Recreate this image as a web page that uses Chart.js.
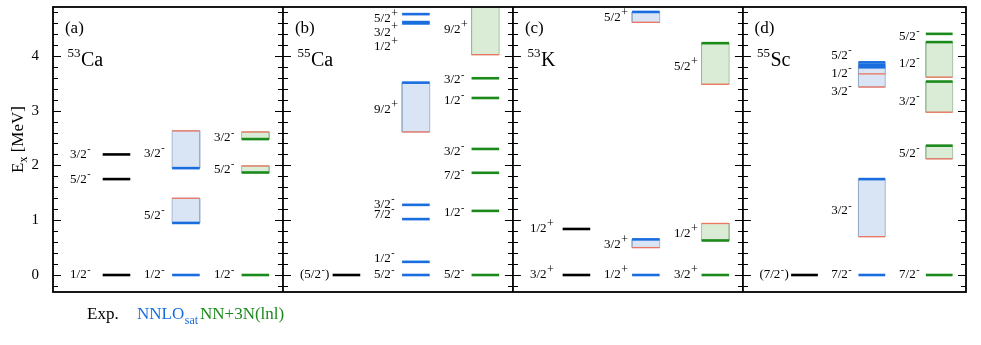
<!DOCTYPE html>
<html><head><meta charset="utf-8">
<script src="https://cdn.jsdelivr.net/npm/chart.js@4.4.0/dist/chart.umd.min.js"></script>
<style>html,body{margin:0;padding:0;background:#fff;}#wrap{position:relative;width:981px;height:345px;}</style>
</head><body><div id="wrap"><canvas id="c" width="981" height="345"></canvas></div>
<script>
// ---------------- data ----------------
const panelNames = ['(a)', '(b)', '(c)', '(d)'];
const nucleusMass = ['53', '55', '53', '55'];
const nucleusSymbol = ['Ca', 'Ca', 'K', 'Sc'];
const yTicks = [0, 1, 2, 3, 4];
const yTitle = ['E', 'x', ' [MeV]'];
const legendExp = 'Exp.';
const legendNnlo = ['NNLO', 'sat'];
const legendLnl = 'NN+3N(lnl)';
// [panel, label, energy (MeV), second energy (red, or null), label energy]
const expLevels = [
  [0, '1/2^-', 0, null, 0], [0, '5/2^-', 1.75, null, 1.75], [0, '3/2^-', 2.20, null, 2.20],
  [1, '(5/2^-)', 0, null, 0],
  [2, '3/2^+', 0, null, 0], [2, '1/2^+', 0.84, null, 0.84],
  [3, '(7/2^-)', 0, null, 0]
];
const nnloLevels = [
  [0, '1/2^-', 0, null, 0], [0, '5/2^-', 0.95, 1.40, 1.09], [0, '3/2^-', 1.95, 2.63, 2.22],
  [1, '5/2^-', 0, null, 0], [1, '1/2^-', 0.24, null, 0.30], [1, '7/2^-', 1.02, null, 1.10],
  [1, '3/2^-', 1.28, null, 1.28], [1, '9/2^+', 3.51, 2.61, 3.01],
  [1, '1/2^+', 4.59, null, 4.16], [1, '3/2^+', 4.615, null, 4.43], [1, '5/2^+', 4.76, null, 4.67],
  [2, '1/2^+', 0, null, 0], [2, '3/2^+', 0.65, 0.50, 0.55], [2, '5/2^+', 4.80, 4.61, 4.69],
  [3, '7/2^-', 0, null, 0], [3, '3/2^-', 1.75, 0.70, 1.17], [3, '3/2^-', 3.79, 3.43, 3.35],
  [3, '1/2^-', 3.835, 3.67, 3.68], [3, '5/2^-', 3.88, 3.79, 4.00]
];
const lnlLevels = [
  [0, '1/2^-', 0, null, 0], [0, '5/2^-', 1.87, 1.99, 1.93], [0, '3/2^-', 2.48, 2.61, 2.50],
  [1, '5/2^-', 0, null, 0], [1, '1/2^-', 1.17, null, 1.13], [1, '7/2^-', 1.865, null, 1.82],
  [1, '3/2^-', 2.30, null, 2.25], [1, '1/2^-', 3.23, null, 3.19], [1, '3/2^-', 3.59, null, 3.56],
  [1, '9/2^+', 5.30, 4.02, 4.47],
  [2, '3/2^+', 0, null, 0], [2, '1/2^+', 0.63, 0.94, 0.76], [2, '5/2^+', 4.23, 3.48, 3.80],
  [3, '7/2^-', 0, null, 0], [3, '5/2^-', 2.36, 2.12, 2.22], [3, '3/2^-', 3.53, 2.97, 3.17],
  [3, '1/2^-', 4.25, 3.61, 3.86], [3, '5/2^-', 4.40, null, 4.35]
];

// ---------------- layout / style ----------------
const SERIF = '"Liberation Serif", "Times New Roman", serif';
const panelStart = [0, 1, 2, 3];
const panelWidth = [1, 1, 1, 0.97];
const colCenter = [0.276, 0.578, 0.880];
const colHalf = 0.06;
const labelFrac = [0.074, 0.396, 0.700];
const lineColor = ['#000000', '#1a6ddf', '#1b8a1b'];
const fillColor = [null, '#d9e4f4', '#dbecd6'];
const sideColor = [null, 'rgba(150,170,200,0.8)', 'rgba(150,185,150,0.8)'];
const redColor = '#ec7560';
const series = [expLevels, nnloLevels, lnlLevels];

const lineSets = [], boxSets = [], redSets = [];
series.forEach((levels, c) => {
  levels.forEach(lv => {
    const [p, , e, e2] = lv;
    const x0 = panelStart[p] + (colCenter[c] - colHalf) * panelWidth[p];
    const x1 = panelStart[p] + (colCenter[c] + colHalf) * panelWidth[p];
    if (e2 !== null) {
      boxSets.push({
        data: [{x: x0, y: e}, {x: x0, y: e2}, {x: x1, y: e2}, {x: x1, y: e}, {x: x0, y: e}],
        borderColor: sideColor[c], borderWidth: 1, backgroundColor: fillColor[c],
        fill: 'shape', pointRadius: 0, tension: 0, order: 3
      });
      redSets.push({
        data: [{x: x0, y: e2}, {x: x1, y: e2}], borderColor: redColor, borderWidth: 1.3,
        pointRadius: 0, fill: false, order: 2
      });
    }
    lineSets.push({
      data: [{x: x0, y: e}, {x: x1, y: e}], borderColor: lineColor[c], borderWidth: 2.6,
      pointRadius: 0, fill: false, order: 1
    });
  });
});

function drawLevelLabel(ctx, text, x, y) {
  const m = text.match(/^(.*)\^([+-])(.*)$/);
  ctx.textAlign = 'left';
  ctx.textBaseline = 'middle';
  ctx.fillStyle = '#000';
  ctx.font = '13px ' + SERIF;
  ctx.fillText(m[1], x, y);
  let w = ctx.measureText(m[1]).width + 0.5;
  ctx.font = (m[2] === '+' ? '12px ' : '10px ') + SERIF;
  ctx.fillText(m[2], x + w, y - 5);
  w += ctx.measureText(m[2]).width + 0.3;
  if (m[3]) { ctx.font = '13px ' + SERIF; ctx.fillText(m[3], x + w, y); }
}

const decor = {
  id: 'decor',
  afterDatasetsDraw(chart) {
    const ctx = chart.ctx, xs = chart.scales.x, ys = chart.scales.y, a = chart.chartArea;
    ctx.save();
    // frame & separators
    ctx.strokeStyle = '#000';
    ctx.lineWidth = 1.8;
    ctx.strokeRect(a.left, a.top, a.right - a.left, a.bottom - a.top);
    const seps = [1, 2, 3].map(v => xs.getPixelForValue(v));
    ctx.lineWidth = 1.8;
    seps.forEach(px => { ctx.beginPath(); ctx.moveTo(px, a.top); ctx.lineTo(px, a.bottom); ctx.stroke(); });
    // ticks
    ctx.lineWidth = 1.2;
    for (let k = -1; k <= 24; k++) {
      const py = Math.round(ys.getPixelForValue(k / 5)) + 0.5;
      if (py < a.top + 1 || py > a.bottom - 1) continue;
      const L = (k % 5 === 0) ? 8 : 5;
      ctx.beginPath();
      ctx.moveTo(a.left, py); ctx.lineTo(a.left + L, py);
      ctx.moveTo(a.right, py); ctx.lineTo(a.right - L, py);
      seps.forEach(px => { ctx.moveTo(px - L, py); ctx.lineTo(px + L, py); });
      ctx.stroke();
    }
    // level labels
    series.forEach((levels, c) => {
      levels.forEach(lv => {
        const [p, lab, , , le] = lv;
        const lx = xs.getPixelForValue(panelStart[p] + labelFrac[c] * panelWidth[p]);
        drawLevelLabel(ctx, lab, lx, ys.getPixelForValue(le));
      });
    });
    // panel tags and nuclei
    ctx.fillStyle = '#000';
    for (let p = 0; p < 4; p++) {
      const pl = xs.getPixelForValue(panelStart[p]);
      const pw = xs.getPixelForValue(panelStart[p] + panelWidth[p]) - pl;
      ctx.textAlign = 'left'; ctx.textBaseline = 'alphabetic';
      ctx.font = '17px ' + SERIF;
      ctx.fillText(panelNames[p], pl + 0.052 * pw, a.top + 26);
      const nx = pl + 0.063 * pw;
      ctx.font = '13px ' + SERIF;
      ctx.fillText(nucleusMass[p], nx, a.top + 50);
      const mw = ctx.measureText(nucleusMass[p]).width;
      ctx.font = '20px ' + SERIF;
      ctx.fillText(nucleusSymbol[p], nx + mw + 0.5, a.top + 59);
    }
    // y title
    ctx.save();
    ctx.translate(19, (a.top + a.bottom) / 2 - 10);
    ctx.rotate(-Math.PI / 2);
    ctx.textBaseline = 'middle'; ctx.textAlign = 'left';
    ctx.font = '17px ' + SERIF; const w0 = ctx.measureText(yTitle[0]).width;
    ctx.font = '12px ' + SERIF; const w1 = ctx.measureText(yTitle[1]).width;
    ctx.font = '17px ' + SERIF; const w2 = ctx.measureText(yTitle[2]).width;
    let tx = -(w0 + w1 + w2) / 2;
    ctx.font = '17px ' + SERIF; ctx.fillText(yTitle[0], tx, 0); tx += w0;
    ctx.font = '12px ' + SERIF; ctx.fillText(yTitle[1], tx, 5); tx += w1;
    ctx.font = '17px ' + SERIF; ctx.fillText(yTitle[2], tx, 0);
    ctx.restore();
    // legend
    ctx.textAlign = 'left'; ctx.textBaseline = 'alphabetic';
    ctx.font = '17px ' + SERIF;
    ctx.fillStyle = lineColor[0]; ctx.fillText(legendExp, 87, 319);
    ctx.fillStyle = lineColor[1]; ctx.fillText(legendNnlo[0], 137, 319);
    const nw = ctx.measureText(legendNnlo[0]).width;
    ctx.font = '12px ' + SERIF; ctx.fillText(legendNnlo[1], 137 + nw + 0.5, 324);
    ctx.font = '17px ' + SERIF;
    ctx.fillStyle = lineColor[2]; ctx.fillText(legendLnl, 200, 319);
    ctx.restore();
  }
};

new Chart(document.getElementById('c'), {
  type: 'line',
  data: { datasets: [...lineSets, ...redSets, ...boxSets] },
  options: {
    responsive: false, animation: false, events: [],
    layout: { padding: { left: 0, right: 15, top: 7, bottom: 53 } },
    plugins: { legend: { display: false }, tooltip: { enabled: false } },
    scales: {
      x: { type: 'linear', min: 0, max: 3.97, display: false },
      y: {
        type: 'linear', min: -0.31, max: 4.89,
        afterBuildTicks: s => { s.ticks = yTicks.map(v => ({ value: v })); },
        afterFit: s => { s.width = 53; s.paddingTop = 0; s.paddingBottom = 0; },
        ticks: { color: '#000', padding: 6, font: { family: SERIF, size: 15 } },
        grid: { display: false }, border: { display: false }
      }
    }
  },
  plugins: [decor]
});
</script></body></html>
